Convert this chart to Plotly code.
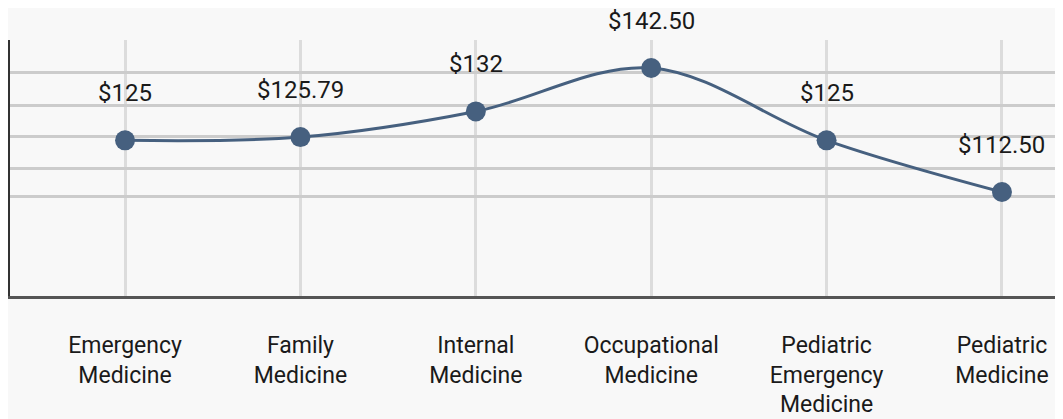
import plotly.graph_objects as go

# categories and average rates
specialties = [
    "Emergency<br>Medicine",
    "Family<br>Medicine",
    "Internal<br>Medicine",
    "Occupational<br>Medicine",
    "Pediatric<br>Emergency<br>Medicine",
    "Pediatric<br>Medicine",
]
rates = [125, 125.79, 132, 142.50, 125, 112.50]
rate_labels = ["$125", "$125.79", "$132", "$142.50", "$125", "$112.50"]

# unlabelled horizontal grid levels
grid_levels = [111.3, 118.3, 126.05, 133.55, 141.3]

LINE_COLOR = "#46607f"
BG = "#f8f8f8"
FONT = "Roboto, sans-serif"

fig = go.Figure()

fig.add_trace(go.Scatter(
    x=specialties,
    y=rates,
    mode="lines+markers",
    line=dict(color=LINE_COLOR, width=3, shape="spline", smoothing=1),
    marker=dict(color=LINE_COLOR, size=20),
    hoverinfo="skip",
))

# value labels sit well above each point
for cat, val, lab in zip(specialties, rates, rate_labels):
    fig.add_annotation(
        x=cat, y=val, text=lab, showarrow=False,
        yshift=47, font=dict(size=24, color="#1a1a1a", family=FONT),
    )

fig.update_layout(
    width=1055,
    height=411,
    margin=dict(l=2, r=0, t=32, b=123),
    paper_bgcolor=BG,
    plot_bgcolor=BG,
    showlegend=False,
    font=dict(family=FONT, size=23, color="#1a1a1a"),
)

fig.update_xaxes(
    range=[-0.656, 5.348],
    showgrid=True,
    gridcolor="#dcdcdc",
    gridwidth=3,
    showline=True,
    linecolor="#555555",
    linewidth=3,
    ticks="",
    ticklabelstandoff=26,
    tickfont=dict(size=23, family=FONT, color="#1a1a1a"),
)

fig.update_yaxes(
    range=[87.34, 149.28],
    tickvals=grid_levels,
    showticklabels=False,
    showgrid=True,
    gridcolor="#cccccc",
    gridwidth=3,
    zeroline=False,
    showline=True,
    linecolor="#333333",
    linewidth=2,
    ticks="",
)

fig.write_html("out.html")
